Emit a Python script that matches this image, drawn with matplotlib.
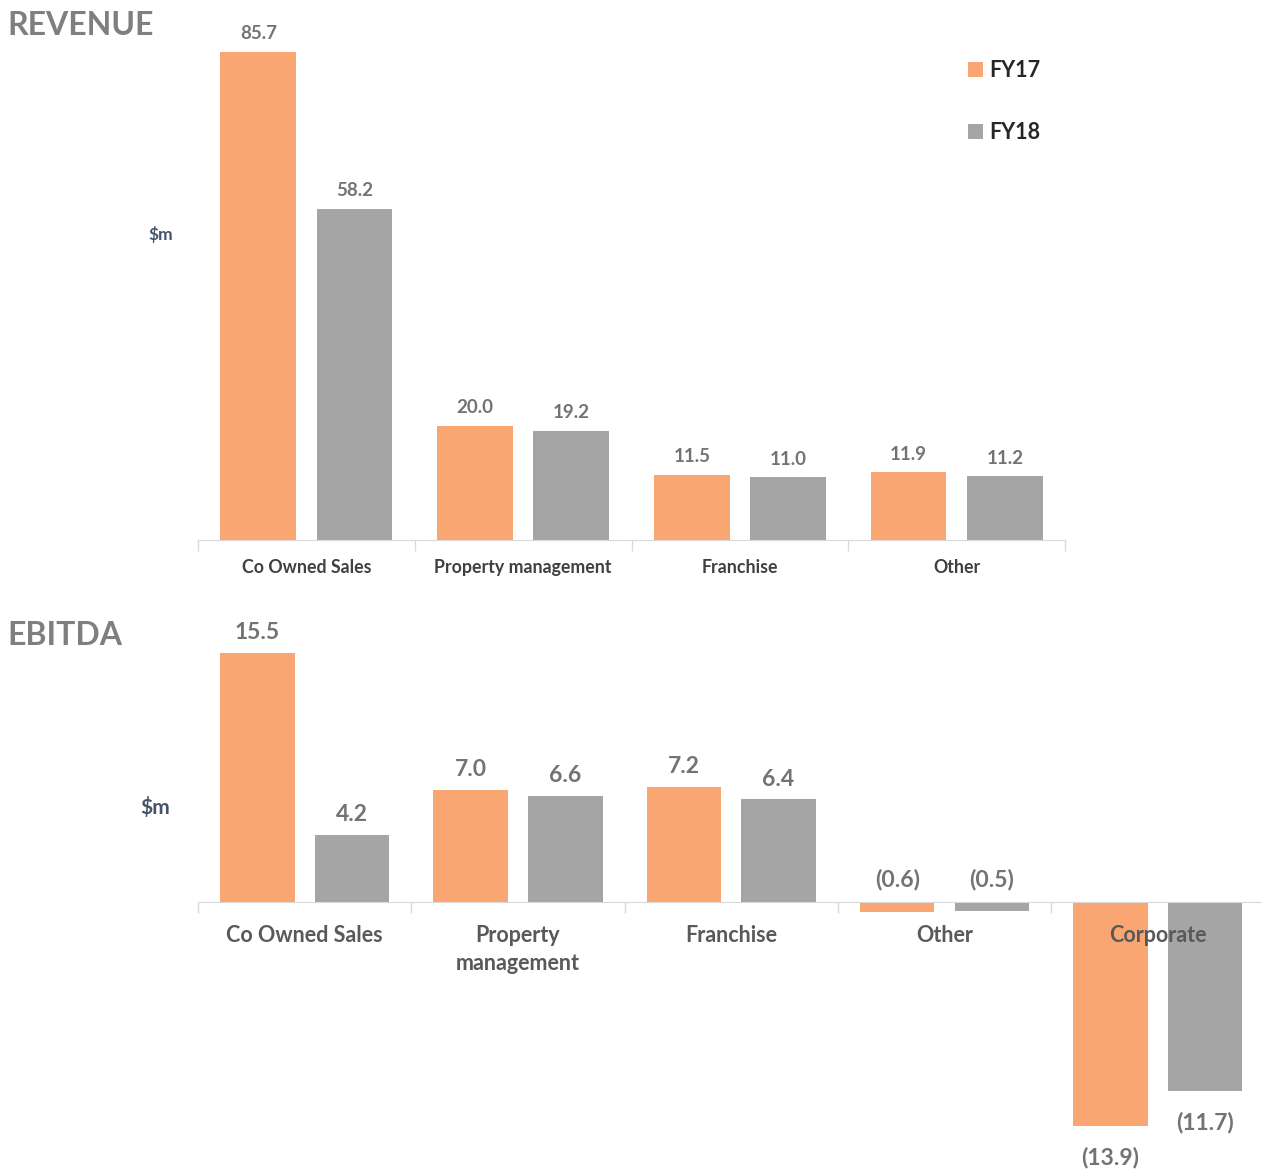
import matplotlib.pyplot as plt
import numpy as np

plt.rcParams['font.family'] = ['Lato', 'DejaVu Sans']

# Data
years = ["FY17", "FY18"]

rev_segments = ["Co Owned Sales", "Property management", "Franchise", "Other"]
rev_fy17 = [85.7, 20.0, 11.5, 11.9]
rev_fy18 = [58.2, 19.2, 11.0, 11.2]

ebitda_segments = ["Co Owned Sales", "Property\nmanagement", "Franchise", "Other", "Corporate"]
ebitda_fy17 = [15.5, 7.0, 7.2, -0.6, -13.9]
ebitda_fy18 = [4.2, 6.6, 6.4, -0.5, -11.7]

# Style
orange = "#F9A672"
grey = "#A5A5A5"
value_col = "#737373"
axis_col = "#D9D9D9"
bar_width = 0.35
offset = 0.222


def fmt(v):
    return f"({abs(v):.1f})" if v < 0 else f"{v:.1f}"


def style_axis(ax, labels, size, color, pad, spacing=1.2):
    n = len(labels)
    # spine position first: it resets the ticks
    for side in ["top", "right", "left"]:
        ax.spines[side].set_visible(False)
    ax.spines["bottom"].set_position(("data", 0))
    ax.spines["bottom"].set_color(axis_col)
    ax.set_yticks([])
    ax.set_xticks(np.arange(n))
    ax.set_xticks(np.arange(n + 1) - 0.5, minor=True)
    ax.tick_params(axis="x", which="major", length=0, pad=pad,
                   labelsize=size, labelcolor=color)
    ax.tick_params(axis="x", which="minor", length=8, color=axis_col, width=1)
    ax.set_xticklabels(labels, fontweight="bold", linespacing=spacing)
    ax.set_xlim(-0.5, n - 0.5)


fig = plt.figure(figsize=(12.62, 11.73), dpi=100)

# Revenue panel
ax1 = fig.add_axes([0.1569, 0.5396, 0.687, 0.4271])
x1 = np.arange(len(rev_segments))
b17 = ax1.bar(x1 - offset, rev_fy17, bar_width, color=orange, label=years[0])
b18 = ax1.bar(x1 + offset, rev_fy18, bar_width, color=grey, label=years[1])
for bars, vals in [(b17, rev_fy17), (b18, rev_fy18)]:
    for b, v in zip(bars, vals):
        ax1.annotate(fmt(v), (b.get_x() + b.get_width() / 2, v),
                     xytext=(0, 7), textcoords="offset points", fontweight="bold",
                     ha="center", va="bottom", fontsize=13.5, color=value_col)
ax1.set_ylim(0, 88)
style_axis(ax1, rev_segments, 12.8, "#404040", pad=14)

# EBITDA panel
ax2 = fig.add_axes([0.1569, 0.0, 0.845, 0.4544])
x2 = np.arange(len(ebitda_segments))
c17 = ax2.bar(x2 - offset, ebitda_fy17, bar_width, color=orange)
c18 = ax2.bar(x2 + offset, ebitda_fy18, bar_width, color=grey)
for bars, vals in [(c17, ebitda_fy17), (c18, ebitda_fy18)]:
    for b, v in zip(bars, vals):
        xc = b.get_x() + b.get_width() / 2
        if v >= 0:
            xy, dy, va = (xc, v), 7, "bottom"
        elif abs(v) < 2:
            xy, dy, va = (xc, 0), 9, "bottom"
        else:
            xy, dy, va = (xc, v), -15, "top"
        ax2.annotate(fmt(v), xy, xytext=(0, dy), textcoords="offset points",
                     ha="center", va=va, fontsize=16.5, fontweight="bold",
                     color=value_col)
ax2.set_ylim(-16.8, 16.3)
style_axis(ax2, ebitda_segments, 15.5, "#595959", pad=16, spacing=1.45)

# Titles and unit labels
fig.text(0.006, 0.978, "REVENUE", fontsize=23, fontweight="bold",
         color="#7F7F7F", ha="left", va="center")
fig.text(0.006, 0.458, "EBITDA", fontsize=23, fontweight="bold",
         color="#7F7F7F", ha="left", va="center")
fig.text(0.127, 0.8, "$m", fontsize=12.5, fontweight="bold",
         color="#44546A", ha="center", va="center")
fig.text(0.123, 0.312, "$m", fontsize=15, fontweight="bold",
         color="#44546A", ha="center", va="center")

fig.legend(handles=[b17, b18], loc="upper left", bbox_to_anchor=(0.752, 0.965),
           frameon=False, handlelength=0.7, handleheight=0.7,
           handletextpad=0.25, labelspacing=1.9, labelcolor="#262626",
           prop={"weight": "bold", "size": 15.5})

fig.savefig("out.png", dpi=100)
